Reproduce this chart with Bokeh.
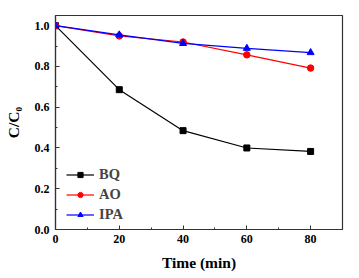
from bokeh.plotting import figure
from bokeh.embed import file_html
from bokeh.resources import INLINE
from bokeh.models import Legend, LegendItem, FixedTicker, CustomJSTickFormatter

time = [0, 20, 40, 60, 80]
bq = [1.0, 0.686, 0.485, 0.400, 0.383]
ao = [1.0, 0.950, 0.920, 0.857, 0.792]
ipa = [1.0, 0.955, 0.913, 0.889, 0.868]

p = figure(width=359, height=278, output_backend="svg", toolbar_location=None,
           x_range=(0, 90), y_range=(0, 1.05),
           min_border_left=55, min_border_right=17, min_border_top=15, min_border_bottom=49)
p.background_fill_color = "white"
p.border_fill_color = "white"
p.outline_line_color = "#333333"
p.outline_line_width = 1.2
p.xgrid.visible = False
p.ygrid.visible = False

font = "Liberation Serif"
for ax in (p.xaxis[0], p.yaxis[0]):
    ax.axis_line_color = "#333333"
    ax.axis_line_width = 1.2
    ax.major_tick_in = 4
    ax.major_tick_out = 0
    ax.minor_tick_in = 2
    ax.minor_tick_out = 0
    ax.major_tick_line_color = "#333333"
    ax.minor_tick_line_color = "#333333"
    ax.major_label_text_font = font
    ax.major_label_text_font_style = "bold"
    ax.major_label_text_font_size = "12px"
    ax.major_label_text_color = "black"
    ax.axis_label_text_font = font
    ax.axis_label_text_font_style = "bold"
    ax.axis_label_text_font_size = "15.5px"
    ax.axis_label_text_color = "black"

p.xaxis.ticker = FixedTicker(ticks=[0, 20, 40, 60, 80], minor_ticks=[10, 30, 50, 70])
p.yaxis.ticker = FixedTicker(ticks=[0.0, 0.2, 0.4, 0.6, 0.8, 1.0],
                             minor_ticks=[0.1, 0.3, 0.5, 0.7, 0.9])
p.yaxis.formatter = CustomJSTickFormatter(code="return tick.toFixed(1);")
p.xaxis.axis_label = "Time (min)"
p.yaxis.axis_label = "C/C\u2080"
p.xaxis.major_label_standoff = 5
p.xaxis.axis_label_standoff = 8
p.yaxis.major_label_standoff = 6
p.yaxis.axis_label_standoff = 10

l1 = p.line(time, bq, color="black", line_width=1.2)
m1 = p.scatter(time, bq, marker="square", size=6, color="black")
l2 = p.line(time, ao, color="red", line_width=1.2)
m2 = p.scatter(time, ao, marker="circle", size=6.5, color="red")
l3 = p.line(time, ipa, color="blue", line_width=1.2)
m3 = p.scatter(time, ipa, marker="triangle", size=7, color="blue")

legend = Legend(items=[LegendItem(label="BQ", renderers=[l1, m1]),
                       LegendItem(label="AO", renderers=[l2, m2]),
                       LegendItem(label="IPA", renderers=[l3, m3])],
                location=(11, 6), border_line_color=None, background_fill_alpha=0,
                label_text_font=font, label_text_font_style="bold",
                label_text_font_size="14.5px", glyph_width=28, glyph_height=13,
                label_height=13, spacing=3, padding=4, margin=0, label_standoff=5)
p.add_layout(legend)

open("out.html", "w").write(file_html(p, INLINE))
